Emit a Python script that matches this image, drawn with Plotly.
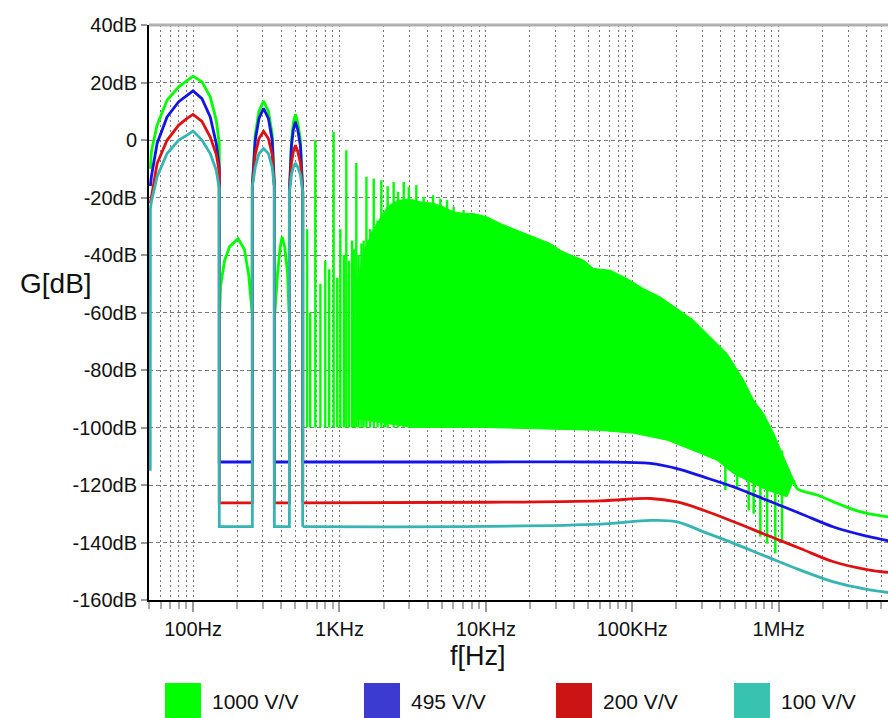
import math
import plotly.graph_objects as go

# ---------------- data ----------------
# first lobe, shared frequency samples (Hz)
lobe1_f = [51.1, 51.9, 56.8, 66.4, 79.8, 91.0, 100, 115, 131, 144, 151]
lobe1_green = [-10, -4, 5.2, 13.8, 18.5, 20.8, 22.2, 20.2, 15, 6.9, -1.2]
lobe1_blue = [-16, -12.8, -1.2, 8.0, 13.3, 15.6, 17.1, 14.4, 8.0, -1.2, -9.4]
lobe1_red = [-22, -19.8, -8.2, -0.1, 5.2, 7.5, 8.9, 6.5, 1.0, -5, -11]
lobe1_teal = [-24, -21.5, -12.8, -4.7, 0, 1.7, 3.1, 0, -4.7, -10.5, -16.9]

# second lobe
lobe2_f = [254, 266, 282, 303, 327, 347, 359]
lobe2_green = [-16, 2, 10, 13.5, 10, 2, -16]
lobe2_blue = [-16, 0, 7.5, 11, 7.5, 0, -16]
lobe2_red = [-16, -5, 0.5, 3, 0.5, -5, -16]
lobe2_teal = [-16.3, -9.4, -4.7, -3, -4.7, -9.4, -16.3]

# third lobe
lobe3_f = [455, 470, 484, 500, 519, 541, 561]
lobe3_green = [-18, 0, 6, 8.9, 6, 0, -18]
lobe3_blue = [-18, -2, 3.5, 6.3, 3.5, -2, -18]
lobe3_red = [-18, -8, -4, -1.8, -4, -8, -18]
lobe3_teal = [-18, -12, -9.5, -8, -9.5, -12, -18]

# green side lobes between the main lobes
side1_f = [151, 152, 154, 164, 178, 203, 224, 240, 248, 253]
side1_db = [-18, -60, -51, -42, -37, -34.3, -38, -47, -55, -60]
side2_f = [359, 362, 378, 394, 406, 422, 442, 452]
side2_db = [-16, -60, -46.4, -37, -33.7, -37, -46.4, -60]

# floor levels of the notches
floor_blue = -112
floor_red = -126.2
floor_teal = -134.5

# high-frequency tails (Hz, dB)
tail_f = [561, 10000, 60500, 133000, 202000, 307000, 493000, 834000,
          1406000, 2371000, 4009000, 5610000]
tail_blue = [-112, -112, -112, -112.5, -114.3, -117.2, -120.7, -125.3,
             -129.9, -134.6, -137.8, -139.4]
tail_red = [-126.2, -126, -125.5, -124.7, -125.9, -128.8, -132.8, -137.5,
            -142.1, -146.7, -149.4, -150.4]
tail_teal = [-134.5, -134.4, -133.6, -132.3, -132.8, -136.3, -140.3, -145,
             -149.6, -153.7, -156.3, -157.4]
tail_green_f = [1268000, 1337000, 1828000, 2377000, 3090000, 4018000, 5610000]
tail_green = [-118.3, -121.2, -123.5, -125.9, -128.2, -129.9, -131.1]

# green resonance spikes (Hz, top dB), rising from the -100 dB floor
spike_f = [601, 631, 684, 741, 800, 851, 912, 966, 1014, 1072, 1114, 1161,
           1219, 1259, 1303, 1349, 1413, 1462, 1528, 1622, 1714, 1820, 1932,
           2042, 2133, 2344, 2512, 2748, 2972, 3350, 3758, 4355, 4887, 5433,
           6026, 7047]
spike_top = [-31, -60, -0.1, -50, -42, -45, 2.8, -48, -31, -40, -3.6, -42,
             -35, -38, -8, -40, -36, -35, -12.8, -31, -13.4, -28, -14,
             -26, -16.1, -14.6, -18, -14.6, -16.3, -15.7, -19.8, -19.2, -20.4,
             -20.9, -23.3, -24.4]
spike_floor = -100

# dense green band: upper envelope and lower envelope
band_upper_f = [1318, 1445, 1660, 1905, 2138, 2512, 3020, 3548, 4365, 5012,
                6026, 7047, 8260, 10160, 12530, 16330, 21230, 27610, 32430,
                35890, 46560, 54450, 70790, 92260, 119700, 155600, 202300,
                262400, 342000, 444600, 576800, 674500, 788900, 924700,
                1081000, 1268000]
band_upper_db = [-50, -40, -32, -27, -23, -21, -20.5, -21.5, -22, -23, -25,
                 -25.5, -25.6, -26.7, -29, -31.4, -33.7, -36, -38.4, -39.5,
                 -41.8, -44.7, -45.3, -48.2, -51.7, -54.6, -58.6, -62.7,
                 -68.5, -74.3, -83.5, -90.5, -95.1, -102, -110.2, -118.3]
band_lower_f = [1140000, 834000, 489800, 379300, 292400, 173000, 102300,
                60500, 10000, 3162, 1318]
band_lower_db = [-124.1, -121.8, -116, -111.4, -109, -104.4, -102, -101,
                 -100, -100, -97]

# deep dips of the green band near 1 MHz
dip_f = [432500, 520000, 623700, 674500, 749900, 834000, 948400, 1054000]
dip_db = [-121.8, -120.7, -128.8, -130, -138, -140.4, -143.8, -139.2]
dip_top = -108

# axis ticks
y_ticks = [40, 20, 0, -20, -40, -60, -80, -100, -120, -140, -160]
y_ticktext = ["40dB", "20dB", "0", "-20dB", "-40dB", "-60dB", "-80dB",
              "-100dB", "-120dB", "-140dB", "-160dB"]
x_major = [100, 1000, 10000, 100000, 1000000]
x_major_text = ["100Hz", "1KHz", "10KHz", "100KHz", "1MHz"]

legend_names = ["1000 V/V", "495 V/V", "200 V/V", "100 V/V"]
line_colors = ["#00ff00", "#1414e6", "#e01010", "#35b4b4"]
legend_colors = ["#00ff00", "#3b3bd1", "#cc1414", "#38c2b0"]

# ---------------- figure ----------------
W, H = 888, 718
L, R, T, B = 149, 0, 25, 118
PW, PH = W - L - R, H - T - B
decade_px = 146.4
x0 = math.log10(50)
x_range = [x0, x0 + PW / decade_px]

fig = go.Figure()
LW = 2.8


def series_path(l1, l2, l3, floor):
    f = lobe1_f + [151, 254] + lobe2_f + [359, 455] + lobe3_f + [561]
    v = l1 + [floor, floor] + l2 + [floor, floor] + l3 + [floor]
    return f, v


# green band
fig.add_trace(go.Scatter(x=band_upper_f + band_lower_f,
                         y=band_upper_db + band_lower_db,
                         mode="lines", fill="toself", fillcolor=line_colors[0],
                         line=dict(color=line_colors[0], width=1),
                         hoverinfo="skip", showlegend=False))
sx, sy = [], []
for f, t in zip(spike_f, spike_top):
    sx += [f, f, None]
    sy += [spike_floor, t, None]
fig.add_trace(go.Scatter(x=sx, y=sy, mode="lines",
                         line=dict(color=line_colors[0], width=2.4),
                         hoverinfo="skip", showlegend=False))
dx, dy = [], []
for f, d in zip(dip_f, dip_db):
    dx += [f, f, None]
    dy += [dip_top, d, None]
fig.add_trace(go.Scatter(x=dx, y=dy, mode="lines",
                         line=dict(color=line_colors[0], width=2.5),
                         hoverinfo="skip", showlegend=False))
# green main line
gf = lobe1_f + side1_f + lobe2_f + side2_f + lobe3_f + [561]
gv = lobe1_green + side1_db + lobe2_green + side2_db + lobe3_green + [spike_floor]
fig.add_trace(go.Scatter(x=gf, y=gv, mode="lines",
                         line=dict(color=line_colors[0], width=LW),
                         name=legend_names[0], showlegend=False))
fig.add_trace(go.Scatter(x=tail_green_f, y=tail_green, mode="lines",
                         line=dict(color=line_colors[0], width=LW, shape="spline"),
                         showlegend=False))

for name, col, l1, l2, l3, fl, tail in [
    (legend_names[1], line_colors[1], lobe1_blue, lobe2_blue, lobe3_blue, floor_blue, tail_blue),
    (legend_names[2], line_colors[2], lobe1_red, lobe2_red, lobe3_red, floor_red, tail_red),
    (legend_names[3], line_colors[3], lobe1_teal, lobe2_teal, lobe3_teal, floor_teal, tail_teal),
]:
    f, v = series_path(l1, l2, l3, fl)
    if name == legend_names[3]:
        f = [51.0] + f
        v = [-115] + v
    fig.add_trace(go.Scatter(x=f, y=v, mode="lines",
                             line=dict(color=col, width=LW),
                             name=name, showlegend=False))
    fig.add_trace(go.Scatter(x=tail_f, y=tail, mode="lines",
                             line=dict(color=col, width=LW, shape="spline"),
                             showlegend=False))

# minor ticks
x_minor = []
for e in range(1, 7):
    for k in range(2, 10):
        v = k * 10 ** e
        if 50 <= v <= 5e6:
            x_minor.append(v)

FONT = "Arial, Liberation Sans, sans-serif"
fig.update_xaxes(type="log", range=x_range,
                 tickvals=x_major, ticktext=x_major_text,
                 ticks="outside", ticklen=10, tickwidth=2, tickcolor="#999",
                 tickfont=dict(family=FONT, size=20, color="#111"),
                 showline=True, linecolor="black", linewidth=2,
                 showgrid=True, gridcolor="#7a7a7a", gridwidth=1, griddash="2px,3px",
                 minor=dict(tickvals=x_minor, ticks="outside", ticklen=7,
                            tickwidth=2, tickcolor="#aaa", showgrid=True,
                            gridcolor="#7a7a7a", gridwidth=1, griddash="2px,3px"),
                 zeroline=False)
fig.update_yaxes(range=[-160, 40], tickvals=y_ticks, ticktext=y_ticktext,
                 ticks="outside", ticklen=6, tickwidth=2, tickcolor="#999",
                 tickfont=dict(family=FONT, size=20, color="#111"),
                 showline=True, linecolor="black", linewidth=2,
                 showgrid=True, gridcolor="#7a7a7a", gridwidth=1, griddash="4px,3px",
                 zeroline=False)


def px_x(px):
    return (px - L) / PW


def px_y(py):
    return (T + PH - py) / PH


shapes = [dict(type="line", xref="paper", yref="paper", x0=0, x1=1, y0=1, y1=1,
               line=dict(color="#b0b0b0", width=3))]
annotations = [
    dict(text="G[dB]", xref="paper", yref="paper", x=px_x(56), y=px_y(283),
         xanchor="center", yanchor="middle", showarrow=False,
         font=dict(family=FONT, size=28, color="#111")),
    dict(text="f[Hz]", xref="paper", yref="paper", x=px_x(478), y=px_y(656),
         xanchor="center", yanchor="middle", showarrow=False,
         font=dict(family=FONT, size=27, color="#111")),
]
legend_sq_left = [165, 364, 556, 734]
for nm, col, lx in zip(legend_names, legend_colors, legend_sq_left):
    shapes.append(dict(type="rect", xref="paper", yref="paper",
                       x0=px_x(lx), x1=px_x(lx + 36), y0=px_y(683), y1=px_y(719),
                       fillcolor=col, line=dict(width=0)))
    annotations.append(dict(text=nm, xref="paper", yref="paper",
                            x=px_x(lx + 45), y=px_y(701), xanchor="left",
                            yanchor="middle", showarrow=False,
                            font=dict(family=FONT, size=21, color="#111")))

fig.update_layout(width=W, height=H, margin=dict(l=L, r=R, t=T, b=B),
                  plot_bgcolor="white", paper_bgcolor="white",
                  shapes=shapes, annotations=annotations, showlegend=False)

fig.write_html("out.html")
